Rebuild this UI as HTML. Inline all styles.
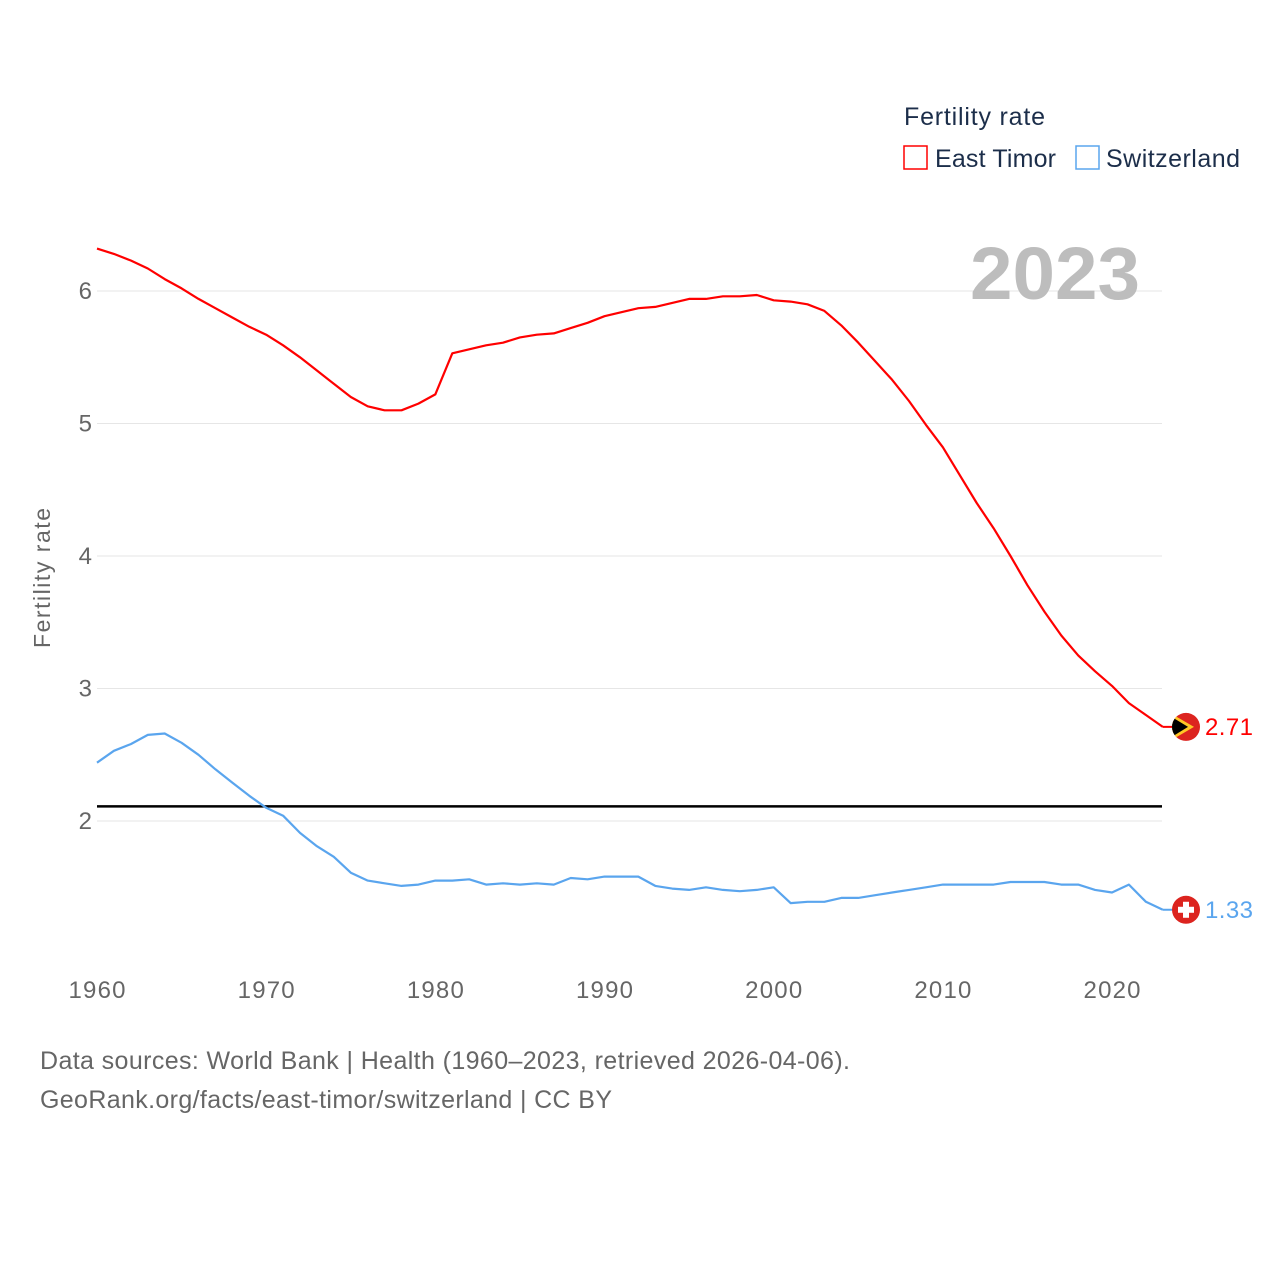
<!DOCTYPE html>
<html><head><meta charset="utf-8"><style>
body{margin:0;background:#fff;font-family:"Liberation Sans",sans-serif}
svg text{font-family:"Liberation Sans",sans-serif}
</style></head><body>
<svg id="c" width="1280" height="1280" viewBox="0 0 1280 1280">
<rect width="1280" height="1280" fill="#fff"/>
<defs><clipPath id="fc1"><circle cx="1186" cy="725" r="14"/></clipPath></defs>
<g id="grid"></g>
<text x="1055" y="299" text-anchor="middle" font-size="74" font-weight="bold" fill="#bdbdbd" textLength="170" lengthAdjust="spacingAndGlyphs">2023</text>
<text x="50" y="578" transform="rotate(-90 50 578)" text-anchor="middle" font-size="23" fill="#666" textLength="140">Fertility rate</text>
<g id="marks"></g>
<text x="904" y="125" font-size="25" fill="#1c2e4a" textLength="141">Fertility rate</text>
<g><rect x="904" y="146" width="23" height="23" fill="none" stroke="#ff0000" stroke-width="1.5"/><text x="935" y="167" font-size="25" fill="#1c2e4a" textLength="121">East Timor</text></g>
<g><rect x="1076" y="146" width="23" height="23" fill="none" stroke="#5aa5ee" stroke-width="1.5"/><text x="1106" y="167" font-size="25" fill="#1c2e4a" textLength="134">Switzerland</text></g>
<text x="40" y="1069" font-size="25" fill="#666" textLength="810">Data sources: World Bank | Health (1960–2023, retrieved 2026-04-06).</text>
<text x="40" y="1108" font-size="25" fill="#666" textLength="572">GeoRank.org/facts/east-timor/switzerland | CC BY</text>
</svg>
<script>
const years=[];for(let y=1960;y<=2023;y++)years.push(y);
const eastTimor=[6.32,6.28,6.23,6.17,6.09,6.02,5.94,5.87,5.80,5.73,5.67,5.59,5.50,5.40,5.30,5.20,5.13,5.10,5.10,5.15,5.22,5.53,5.56,5.59,5.61,5.65,5.67,5.68,5.72,5.76,5.81,5.84,5.87,5.88,5.91,5.94,5.94,5.96,5.96,5.97,5.93,5.92,5.90,5.85,5.74,5.61,5.47,5.33,5.17,4.99,4.82,4.61,4.40,4.21,4.00,3.78,3.58,3.40,3.25,3.13,3.02,2.89,2.80,2.71];
const switzerland=[2.44,2.53,2.58,2.65,2.66,2.59,2.50,2.39,2.29,2.19,2.10,2.04,1.91,1.81,1.73,1.61,1.55,1.53,1.51,1.52,1.55,1.55,1.56,1.52,1.53,1.52,1.53,1.52,1.57,1.56,1.58,1.58,1.58,1.51,1.49,1.48,1.50,1.48,1.47,1.48,1.50,1.38,1.39,1.39,1.42,1.42,1.44,1.46,1.48,1.50,1.52,1.52,1.52,1.52,1.54,1.54,1.54,1.52,1.52,1.48,1.46,1.52,1.39,1.33];
const yTicks=[2,3,4,5,6];
const xTicks=[1960,1970,1980,1990,2000,2010,2020];
const replacementRate=2.11;
const NS="http://www.w3.org/2000/svg";
const X=y=>97+(y-1960)*16.917, Y=v=>821-(v-2)*132.5;
const grid=document.getElementById('grid'),marks=document.getElementById('marks');
function mk(t,a,p){const e=document.createElementNS(NS,t);for(const k in a)e.setAttribute(k,a[k]);p.appendChild(e);return e;}
yTicks.forEach(v=>{
 const l=mk('line',{x1:97,x2:1162,y1:Y(v),y2:Y(v),stroke:'#e6e6e6','stroke-width':1},grid);
 
 
 const t=mk('text',{x:92,y:Y(v)+8,'text-anchor':'end','font-size':24,fill:'#666'},grid);t.textContent=v;
 
 
});
xTicks.forEach(v=>{
 const t=mk('text',{x:X(v),y:998,'text-anchor':'middle','font-size':24,fill:'#666',textLength:57},grid);t.textContent=v;
 
 
});
const rl=mk('line',{x1:97,x2:1162,y1:Y(replacementRate),y2:Y(replacementRate),stroke:'#000','stroke-width':2.5},marks);


function series(vals,col,name){
 const d=vals.map((v,i)=>(i?'L':'M')+X(years[i]).toFixed(1)+' '+Y(v).toFixed(1)).join(' ');
 const p=mk('path',{d:d,fill:'none',stroke:col,'stroke-width':2.2,'stroke-linejoin':'round'},marks);
 
 
 const last=vals[vals.length-1],ly=Y(last);
 mk('line',{x1:X(2023),x2:1186,y1:ly,y2:ly,stroke:col,'stroke-width':2},marks);
 const c=mk('circle',{cx:1186,cy:ly,r:14,fill:'#dc241f'},marks);
 
 
 const t=mk('text',{x:1205,y:ly+8,'font-size':24,fill:col,textLength:48},marks);t.textContent=last.toFixed(2);
 
 
 return ly;
}
const ly1=series(eastTimor,'#ff0000','east-timor');
document.querySelector('#fc1 circle').setAttribute('cy',ly1);
const fg=mk('g',{'clip-path':'url(#fc1)'},marks);
mk('path',{d:`M1170 ${ly1-14} L1194 ${ly1} L1170 ${ly1+14} Z`,fill:'#ffc726'},fg);
mk('path',{d:`M1170 ${ly1-11} L1188 ${ly1} L1170 ${ly1+11} Z`,fill:'#000'},fg);
const ly2=series(switzerland,'#5aa5ee','switzerland');
mk('rect',{x:1183,y:ly2-8,width:6,height:16,fill:'#fff'},marks);
mk('rect',{x:1178,y:ly2-3,width:16,height:6,fill:'#fff'},marks);
</script>
</body></html>
